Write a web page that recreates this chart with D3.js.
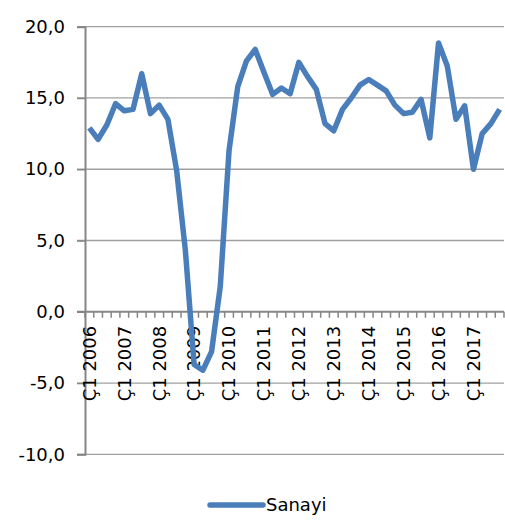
<!DOCTYPE html>
<html>
<head>
<meta charset="utf-8">
<script src="https://cdn.jsdelivr.net/npm/d3@7.9.0/dist/d3.min.js"></script>
<style>
  body { margin: 0; background: #fff; }
  svg text { font-family: "DejaVu Sans", sans-serif; fill: #000; }
</style>
</head>
<body>
<svg width="505" height="522"></svg>
<script>
// quarters Ç1 2006 ... Ç4 2017
const years = d3.range(2006, 2018);
const quarters = years.flatMap(y => [1, 2, 3, 4].map(q => `Ç${q} ${y}`));

const sanayi = [
  12.9, 12.1, 13.1, 14.6, 14.1, 14.2, 16.7, 13.9,
  14.5, 13.5, 9.9, 4.3, -3.7, -4.1, -2.8, 1.8,
  11.3, 15.8, 17.6, 18.4, 16.8, 15.25, 15.7, 15.3,
  17.5, 16.5, 15.6, 13.2, 12.7, 14.2, 15.0, 15.9,
  16.3, 15.9, 15.5, 14.5, 13.9, 14.0, 14.9, 12.2,
  18.85, 17.25, 13.5, 14.45, 10.0, 12.5, 13.2, 14.2
];

const yTicks = [-10, -5, 0, 5, 10, 15, 20];

const svg = d3.select("svg");
const plotLeft = 85, plotRight = 504, plotTop = 26.7, plotBottom = 454.3;

const x = d3.scaleBand().domain(quarters).range([plotLeft, plotRight]);
const y = d3.scaleLinear().domain([-10, 20]).range([plotBottom, plotTop]);

// gridlines
svg.append("g")
  .selectAll("line")
  .data(yTicks)
  .join("line")
  .attr("x1", plotLeft - 8)
  .attr("x2", plotRight)
  .attr("y1", d => y(d))
  .attr("y2", d => y(d))
  .attr("stroke", d => d === 0 ? "#868686" : "#a0a0a0")
  .attr("stroke-width", d => d === 0 ? 2 : 1.3);

// y axis, comma decimals and plain hyphen for negatives
const yAxis = d3.axisLeft(y)
  .tickValues(yTicks)
  .tickSize(8)
  .tickPadding(12)
  .tickFormat(d => d.toFixed(1).replace(".", ","));

svg.append("g")
  .attr("transform", `translate(${plotLeft},0)`)
  .call(yAxis)
  .call(g => g.select(".domain").attr("stroke", "#868686").attr("stroke-width", 2))
  .call(g => g.selectAll(".tick line").attr("stroke", "#868686").attr("stroke-width", 1.5))
  .call(g => g.selectAll(".tick text")
    .style("font-family", "DejaVu Sans")
    .style("font-size", "18px")
    .attr("fill", "#000"));

// x axis ticks at category boundaries
const edges = quarters.map(q => x(q)).concat([plotRight]);
svg.append("g")
  .selectAll("line")
  .data(edges)
  .join("line")
  .attr("x1", d => d)
  .attr("x2", d => d)
  .attr("y1", y(0))
  .attr("y2", y(0) + 6)
  .attr("stroke", "#868686")
  .attr("stroke-width", 1.5);

// rotated Q1 labels
svg.append("g")
  .selectAll("text")
  .data(quarters.filter(q => q.startsWith("Ç1")))
  .join("text")
  .attr("transform", d => `translate(${x(d) + x.bandwidth() / 2},${y(0) + 14}) rotate(-90)`)
  .attr("text-anchor", "end")
  .attr("dy", "0.35em")
  .style("font-size", "18px")
  .text(d => d);

// series line
const line = d3.line()
  .x((d, i) => x(quarters[i]) + x.bandwidth() / 2)
  .y(d => y(d));

svg.append("path")
  .datum(sanayi)
  .attr("d", line)
  .attr("fill", "none")
  .attr("stroke", "#4a7ebb")
  .attr("stroke-width", 5.5)
  .attr("stroke-linejoin", "round")
  .attr("stroke-linecap", "butt");

// legend
const legend = svg.append("g").attr("transform", "translate(210,505)");
legend.append("line")
  .attr("x1", 0).attr("x2", 53)
  .attr("stroke", "#4a7ebb")
  .attr("stroke-width", 5.5)
  .attr("stroke-linecap", "round");
legend.append("text")
  .attr("x", 56)
  .attr("dy", "0.35em")
  .style("font-size", "18px")
  .text("Sanayi");
</script>
</body>
</html>
